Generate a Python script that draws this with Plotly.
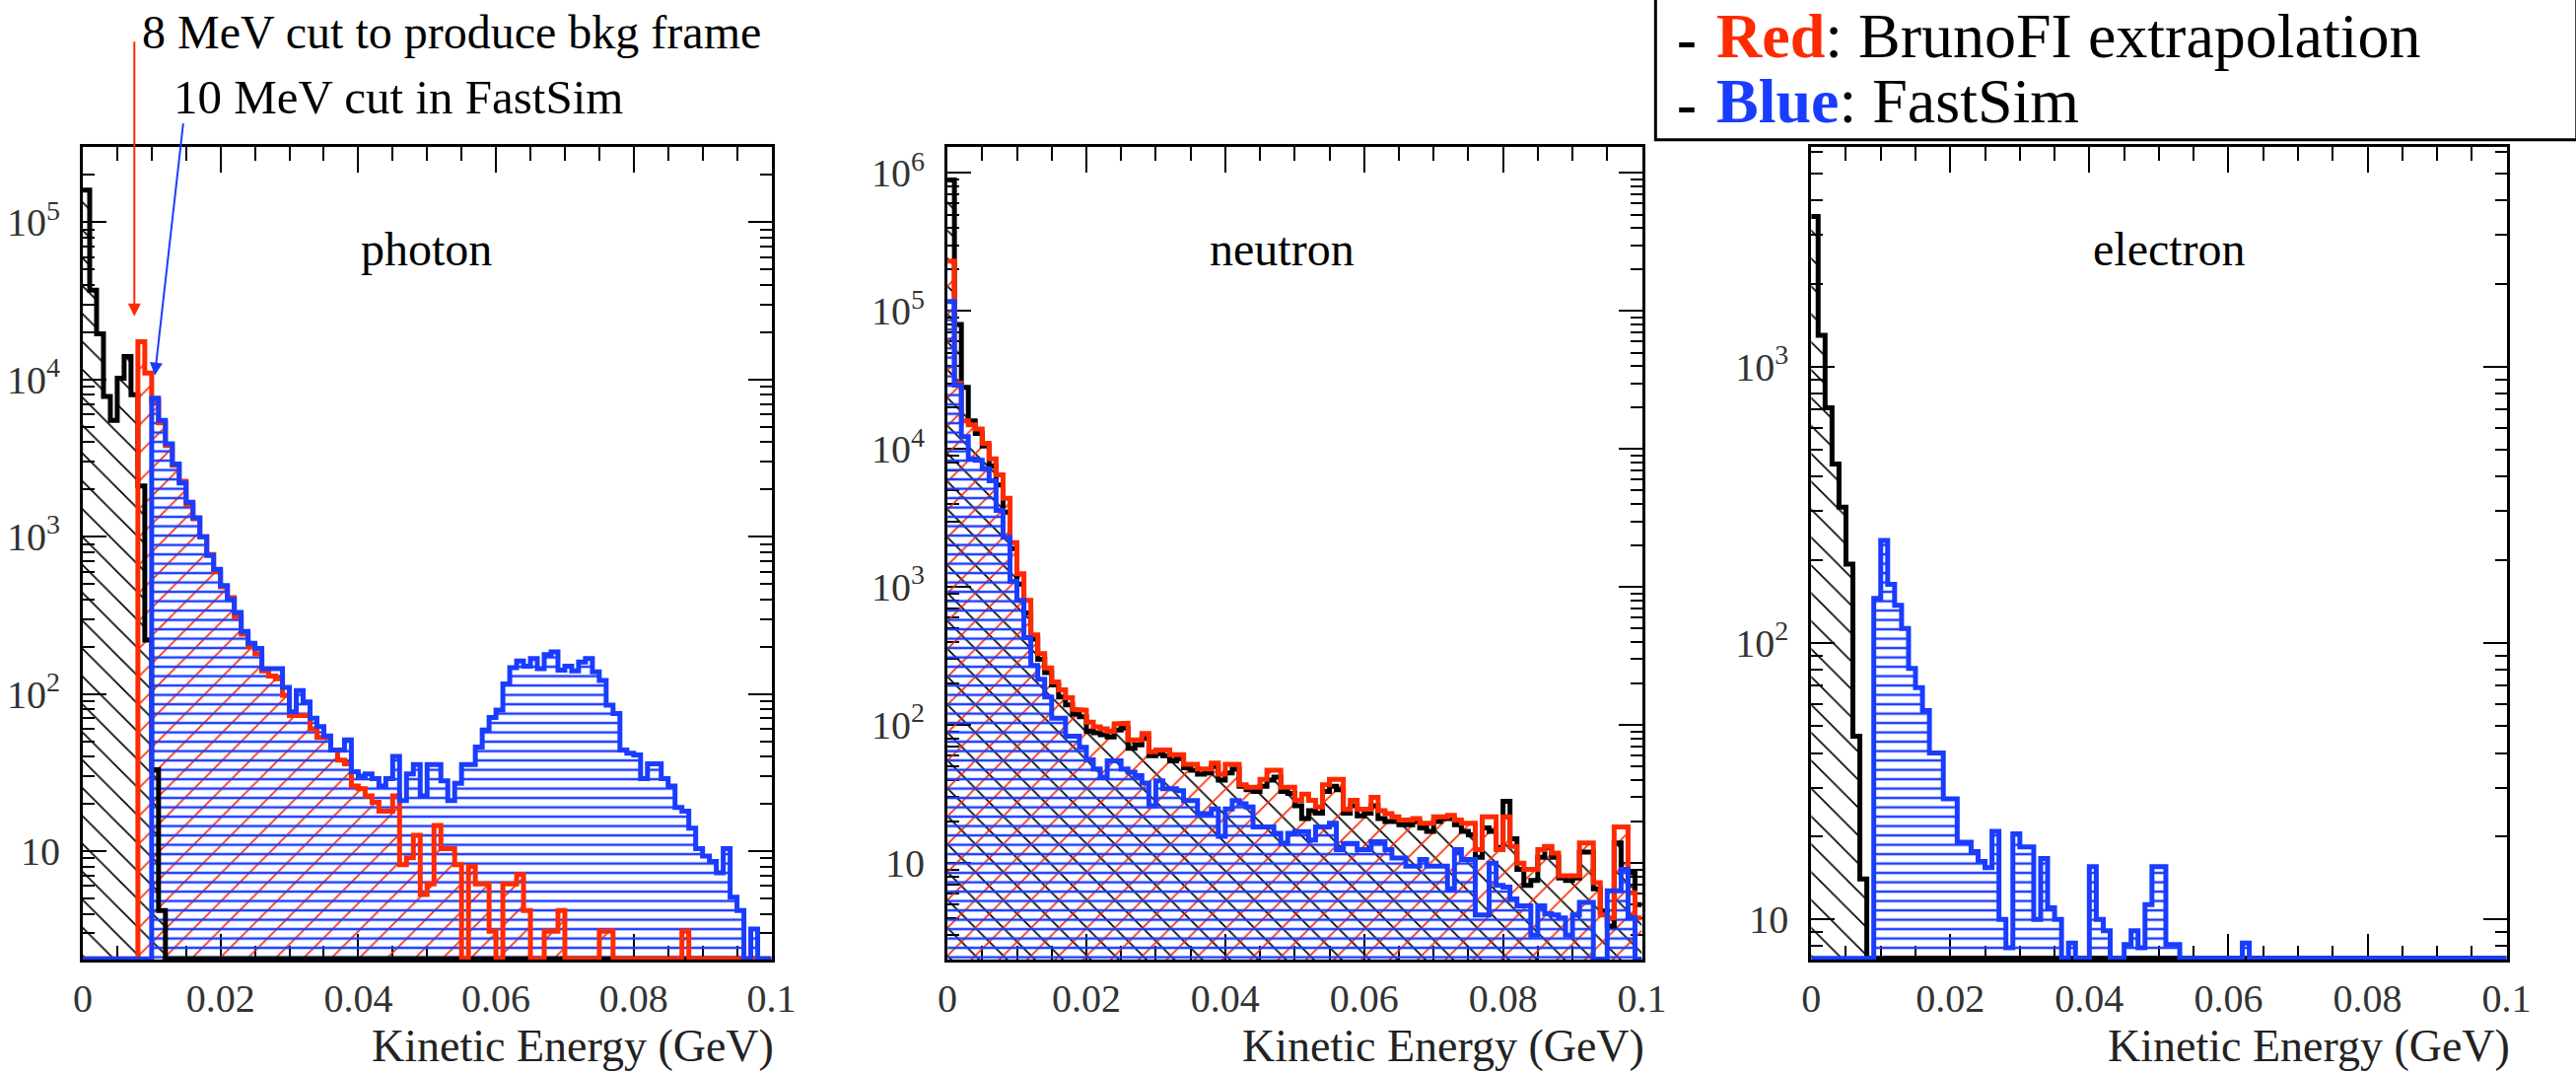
import numpy as np
import plotly.graph_objects as go

W, H = 2613, 1088
NB = 100
edges = np.linspace(0.0, 0.1, NB + 1)

# ---------------- data (bin contents, 1 MeV bins from 0 to 0.1 GeV) ----------------
photon_black = [160000, 37000, 19500, 7800, 5500, 10200, 14000, 8000, 2100, 220, 33, 4.2] + [0] * 88
photon_red = [0] * 8 + [17400, 11000, 7300, 5300, 3800, 2850, 2250, 1600, 1300, 1000, 770, 600,
    480, 410, 310, 240, 200, 180, 140, 130, 125, 98, 73, 73, 73, 60, 53, 53, 44, 38,
    36, 26, 25, 22.5, 20.5, 18, 18, 22.5, 8.2, 9.1, 12.6, 5.3, 6.2, 14.6, 10.4, 10.4, 8.2, 0, 8.0, 6.2,
    6.2, 3.1, 0, 6.2, 6.2, 7.1, 4.2, 0, 0, 3.1, 3.1, 4.2, 0, 0, 0, 0, 0, 3.1, 3.1, 0,
    0, 0, 0, 0, 0, 0, 0, 0, 0, 3.1, 0, 0, 0, 0, 0, 0, 0, 0, 0, 0, 0, 0]
photon_blue = [0] * 10 + [7600, 5500, 3900, 2900, 2200, 1660, 1320, 1000, 760, 620,
    490, 400, 330, 250, 210, 195, 145, 145, 145, 110, 77, 105, 89, 70, 62, 54, 44, 44, 51, 32,
    30, 31, 29, 26, 29, 40, 21, 31, 35.6, 22.5, 35.6, 35.6, 28, 21, 27, 35.6, 35.6, 46, 59, 71,
    79, 116, 147, 162, 150, 168, 145, 178, 185, 142, 150, 140, 160, 168, 138, 122, 85, 75, 44, 42,
    41, 29, 36, 36, 29, 26, 19, 18, 14, 10.4, 9.3, 8.6, 7.3, 10.4, 5.1, 4.2, 0, 3.2, 0, 0]

neutron_black = [890000, 80000, 28000, 16000, 13000, 10500, 7500, 5500, 3500, 1900,
    1050, 650, 420, 300, 240, 195, 160, 140, 120, 115,
    90, 88, 85, 82, 92, 95, 68, 72, 80, 60, 62, 60, 55, 57, 49, 47, 44, 45, 50, 40,
    45, 48, 36, 34, 33, 36, 40, 42, 33, 32, 26, 21, 24, 23, 33, 36, 34, 23, 26, 22,
    23, 26, 21, 20, 20, 19, 19, 20, 18, 17, 20, 21, 21, 19, 17, 16, 11, 18, 17, 13,
    28, 15, 9, 6.9, 7.5, 11, 13, 11, 7.8, 7.5, 7.8, 12, 12, 6.5, 4.5, 3.5, 14, 9, 8.5, 5]
neutron_red = [230000, 30000, 16000, 15000, 14000, 11000, 8500, 6500, 4400, 2100,
    1250, 800, 450, 330, 260, 205, 180, 158, 130, 128,
    105, 97, 94, 90, 102, 103, 78, 78, 87, 64, 66, 66, 61, 61, 52, 52, 48, 48, 53, 44,
    52, 52, 37, 35.5, 35.5, 40.5, 47, 47, 35.5, 35.5, 28.5, 31.6, 28.5, 25.5, 37, 40.5, 40.5, 24.6, 28.5, 24.6,
    24.6, 30, 24, 22.8, 21.6, 20.5, 20.5, 21, 19.4, 19.4, 21.6, 21.6, 22.2, 20.5, 19.4, 19.4, 12.5, 21.6, 21.6, 12.5,
    21.6, 13.2, 10, 9, 9, 12.5, 13.2, 11.8, 8.1, 8.1, 8.1, 14, 14, 7.2, 4.2, 4.0, 18.3, 18.3, 6.1, 4.0]
neutron_blue = [117000, 29000, 12300, 8500, 8300, 7200, 5900, 3600, 2300, 1100,
    800, 430, 270, 215, 160, 112, 112, 83, 83, 69,
    56, 48, 42, 55, 55, 48, 45.6, 43, 38, 26, 39.5, 34.6, 34.6, 33.4, 28.4, 28.4, 22.8, 22.8, 24.7, 15.6,
    24.7, 28.4, 26.9, 25.5, 18.3, 18.3, 18.3, 16.4, 13.9, 16.4, 16.9, 16.9, 14.7, 18.3, 18.3, 19.4, 12.5, 13.9, 13.9, 12.5,
    12.5, 14.3, 14.3, 12.5, 10.9, 10.9, 9.5, 9.5, 10.6, 9.5, 9.5, 9.5, 6.5, 12.5, 10.6, 10.6, 4.2, 4.2, 10, 6.9,
    6.7, 5.5, 4.9, 4.9, 3.0, 4.9, 4.3, 4.2, 4.0, 3.0, 4.2, 5.2, 5.2, 0, 0, 6.3, 6.3, 9.0, 4.0, 0]

electron_black = [3500, 1300, 710, 445, 310, 193, 46, 14] + [0] * 92
electron_blue = [0] * 9 + [145, 235, 163, 137, 113, 81, 69, 57, 40, 40, 27.3,
    27.3, 19, 19, 17.6, 16.2, 15.4, 20.8, 10, 7.9, 20.4, 18.3, 18.3, 10, 16.6, 11, 10, 0, 8.2, 0, 0,
    15.5, 10, 9.1, 0, 0, 8.1, 9.1, 7.9, 11.3, 15.5, 15.5, 8.1, 8.1, 0, 0, 0, 0, 0, 0, 0,
    0, 0, 8.2] + [0] * 37

x_tickvals = [0, 0.02, 0.04, 0.06, 0.08, 0.1]
x_ticktext = ["0", "0.02", "0.04", "0.06", "0.08", "0.1"]

# ---------------- layout geometry (pixels) ----------------
panels = [
    dict(name="photon", x0=75, x1=783, ylog=(0.31, 5.48), lab_x=428,
         series=[("black", photon_black), ("red", photon_red), ("blue", photon_blue)]),
    dict(name="neutron", x0=964, x1=1678, ylog=(0.30, 6.19), lab_x=1308,
         series=[("black", neutron_black), ("red", neutron_red), ("blue", neutron_blue)]),
    dict(name="electron", x0=1852, x1=2567, ylog=(0.854, 3.796), lab_x=2220,
         series=[("black", electron_black), ("blue", electron_blue)]),
]
PY_TOP, PY_BOT = 148, 973
ydom = [(H - PY_BOT) / H, (H - PY_TOP) / H]

COL = {"black": "#000000", "red": "#ff2a00", "blue": "#1a3cff"}
PAT = {
    "black": dict(shape="\\", fgcolor="#000000", bgcolor="rgba(0,0,0,0)", size=20, solidity=0.08, fillmode="replace"),
    "red": dict(shape="/", fgcolor="#ff2a00", bgcolor="rgba(0,0,0,0)", size=20, solidity=0.08, fillmode="replace"),
    "blue": dict(shape="-", fgcolor="#1a3cff", bgcolor="rgba(0,0,0,0)", size=9.5, solidity=0.26, fillmode="replace"),
}
SERIF = "Liberation Serif"

fig = go.Figure()

def step_path(vals, floor):
    v = np.maximum(np.asarray(vals, dtype=float), floor)
    xs = np.repeat(edges, 2)[1:-1]
    ys = np.repeat(v, 2)
    return xs, ys

for i, p in enumerate(panels, start=1):
    lo, hi = p["ylog"]
    floor = 10 ** (lo + 0.005)
    xa = "x" if i == 1 else f"x{i}"
    ya = "y" if i == 1 else f"y{i}"
    for cname, vals in p["series"]:
        xs, ys = step_path(vals, floor)
        base = 10 ** (lo - 1)
        fx = np.concatenate([[edges[0]], xs, [edges[-1], edges[0]]])
        fy = np.concatenate([[base], ys, [base, base]])
        fig.add_trace(go.Scatter(x=fx, y=fy, xaxis=xa, yaxis=ya, mode="lines",
                                 line=dict(width=0, color="rgba(0,0,0,0)"), fill="toself",
                                 fillcolor="rgba(0,0,0,0)", fillpattern=PAT[cname],
                                 hoverinfo="skip", showlegend=False))
    for cname, vals in p["series"]:
        xs, ys = step_path(vals, floor)
        fig.add_trace(go.Scatter(x=xs, y=ys, xaxis=xa, yaxis=ya, mode="lines",
                                 line=dict(width=5, color=COL[cname]),
                                 hoverinfo="skip", showlegend=False))

    tick_font = dict(family=SERIF, size=40, color="#333333")
    xminor = [round(0.005 * j, 3) for j in range(1, 20) if j % 4 != 0]
    fig.layout[f"xaxis{'' if i == 1 else i}"] = dict(
        domain=[p["x0"] / W, p["x1"] / W], range=[0, 0.1], anchor=ya,
        tickmode="array", tickvals=x_tickvals, ticktext=x_ticktext,
        ticks="inside", ticklen=26, tickwidth=2, tickcolor="black",
        minor=dict(tickmode="array", tickvals=xminor, ticks="inside", ticklen=14, tickwidth=2, tickcolor="black"),
        mirror="allticks", showline=True, linewidth=3, linecolor="black",
        showgrid=False, zeroline=False, tickfont=tick_font, ticklabelstandoff=2,
        layer="below traces")
    decs = list(range(int(np.ceil(lo)), int(np.floor(hi)) + 1))
    ytv = [10 ** d for d in decs]
    ytt = ["10" if d == 1 else f"10<sup>{d}</sup>" for d in decs]
    yminor = [m * 10 ** d for d in range(int(np.floor(lo)), int(np.ceil(hi)) + 1) for m in range(2, 10)
              if lo <= np.log10(m * 10 ** d) <= hi]
    fig.layout[f"yaxis{'' if i == 1 else i}"] = dict(
        domain=ydom, type="log", range=[lo, hi], anchor=xa,
        tickmode="array", tickvals=ytv, ticktext=ytt,
        ticks="inside", ticklen=24, tickwidth=2, tickcolor="black",
        minor=dict(tickmode="array", tickvals=yminor, ticks="inside", ticklen=12, tickwidth=2, tickcolor="black"),
        mirror="allticks", showline=True, linewidth=3, linecolor="black",
        showgrid=False, zeroline=False, tickfont=tick_font, ticklabelstandoff=12,
        layer="below traces")

    fig.add_annotation(text=p["name"], x=p["lab_x"] / W, y=1 - 252 / H, xref="paper", yref="paper",
                       xanchor="center", yanchor="middle", showarrow=False,
                       font=dict(family=SERIF, size=48, color="black"))
    fig.add_annotation(text="Kinetic Energy (GeV)", x=(p["x1"] + 4) / W, y=1 - 1060 / H, xref="paper", yref="paper",
                       xanchor="right", yanchor="middle", showarrow=False, borderpad=0,
                       font=dict(family=SERIF, size=46, color="#222222"))

# cut annotations with arrows
fig.add_annotation(text="8 MeV cut to produce bkg frame", x=134 / W, y=1 - 32 / H, xref="paper", yref="paper",
                   xanchor="left", yanchor="middle", showarrow=False,
                   font=dict(family=SERIF, size=48, color="black"))
fig.add_annotation(text="10 MeV cut in FastSim", x=166 / W, y=1 - 98 / H, xref="paper", yref="paper",
                   xanchor="left", yanchor="middle", showarrow=False,
                   font=dict(family=SERIF, size=49, color="black"))
fig.add_annotation(text="", x=128 / W, y=1 - 320 / H, xref="paper", yref="paper", ax=0, ay=-280,
                   showarrow=True, arrowhead=2, arrowsize=1.3, arrowwidth=2, arrowcolor="#ff2a00")
fig.add_annotation(text="", x=149 / W, y=1 - 380 / H, xref="paper", yref="paper", ax=29, ay=-257,
                   showarrow=True, arrowhead=2, arrowsize=1.3, arrowwidth=2, arrowcolor="#1a3cff")

# legend box (top right)
fig.add_shape(type="rect", xref="paper", yref="paper", x0=1692 / W, x1=1.01, y0=1 - 141 / H, y1=1.05,
              line=dict(color="black", width=3), fillcolor="white", layer="above")
for yy in (38, 104):
    fig.add_annotation(text="<b>-</b>", x=1712 / W, y=1 - yy / H, xref="paper", yref="paper",
                       xanchor="left", yanchor="middle", showarrow=False,
                       font=dict(family=SERIF, size=60, color="black"))
fig.add_annotation(text="<span style='color:#ff2a00'><b>Red</b></span>: BrunoFI extrapolation",
                   x=1752 / W, y=1 - 36 / H, xref="paper", yref="paper",
                   xanchor="left", yanchor="middle", showarrow=False,
                   font=dict(family=SERIF, size=64, color="black"))
fig.add_annotation(text="<span style='color:#1a3cff'><b>Blue</b></span>: FastSim",
                   x=1752 / W, y=1 - 102 / H, xref="paper", yref="paper",
                   xanchor="left", yanchor="middle", showarrow=False,
                   font=dict(family=SERIF, size=64, color="black"))

fig.update_layout(width=W, height=H, margin=dict(l=0, r=0, t=0, b=0),
                  paper_bgcolor="white", plot_bgcolor="white", showlegend=False)

fig.write_html("out.html")
